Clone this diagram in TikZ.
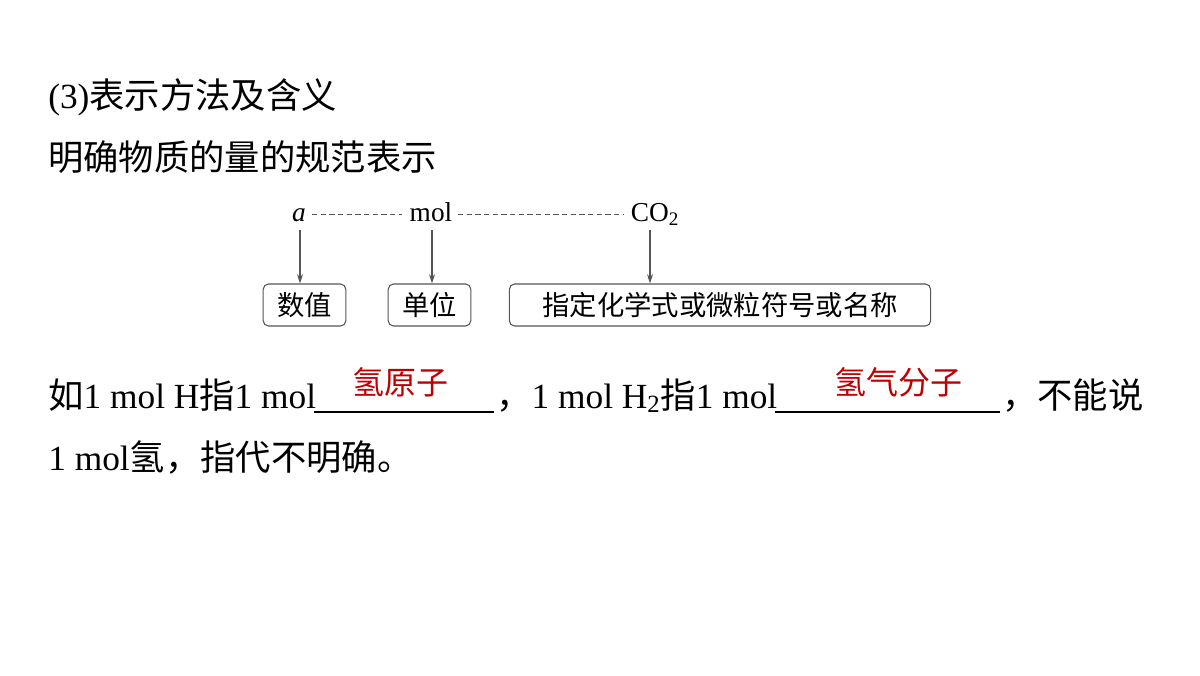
\documentclass[tikz,border=0pt]{standalone}
\usepackage{fontspec}
\setmainfont{Liberation Serif}
\newfontfamily\cjk{Noto Sans CJK SC}
\definecolor{ans}{HTML}{C00000}
\definecolor{ln}{HTML}{555555}
\begin{document}
\begin{tikzpicture}[x=0.75pt,y=-0.75pt,
  txt/.style={inner sep=0pt,anchor=base west,font=\fontsize{26.5}{30}\selectfont},
  dg/.style={inner sep=0pt,font=\fontsize{20.5}{24}\selectfont},
  bx/.style={draw=ln,rounded corners=4pt,line width=0.8pt,inner sep=0pt,minimum height=31.5pt,font=\cjk\fontsize{20.5}{24}\selectfont},
  arr/.style={-{Stealth[length=7pt,width=4.5pt]},draw=ln,line width=0.8pt},
  dsh/.style={draw=ln,line width=0.6pt,dash pattern=on 4pt off 2.5pt},
  ul/.style={draw=black,line width=0.8pt},
  ansf/.style={inner sep=0pt,anchor=base,text=ans,font=\cjk\fontsize{24}{28}\selectfont}]
\usetikzlibrary{arrows.meta}
\useasboundingbox (0,0) rectangle (1200,675);
\node[txt] (t1) at (48,108) {(3)\cjk 表示方法及含义};
\node[txt] (t2) at (48,170) {\cjk 明确物质的量的规范表示};
\node[dg,anchor=base] (a) at (299,221) {\itshape a};
\node[dg,anchor=base] (mol) at (431,221) {mol};
\node[dg,anchor=base] (co) at (655,221) {CO\textsubscript{2}};
\coordinate (d1) at (312,214); \coordinate (d2) at (402,214);
\coordinate (d3) at (458,214); \coordinate (d4) at (624,214);
\draw[dsh] (d1) -- (d2);
\draw[dsh] (d3) -- (d4);
\node[bx,minimum width=62pt] (b1) at (304.5,305) {数值};
\node[bx,minimum width=62pt] (b2) at (429.5,305) {单位};
\node[bx,minimum width=316pt] (b3) at (720,305) {指定化学式或微粒符号或名称};
\draw[arr] (300,230) -- (b1.north -| 300,0);
\draw[arr] (432,230) -- (b2.north -| 432,0);
\draw[arr] (650,230) -- (b3.north -| 650,0);
\node[txt] (l1a) at (48,408) {\cjk 如\rmfamily 1 mol H\cjk 指\rmfamily 1 mol};
\coordinate (u1s) at (314,412); \coordinate (u1e) at (494,412);
\draw[ul] (u1s) -- (u1e);
\node[ansf] (ans1) at (400,394) {氢原子};
\node[txt] (l1b) at (496,408) {\cjk ，\rmfamily 1 mol H\textsubscript{2}\cjk 指\rmfamily 1 mol};
\coordinate (u2s) at (775,412); \coordinate (u2e) at (1000,412);
\draw[ul] (u2s) -- (u2e);
\node[ansf] (ans2) at (898,394) {氢气分子};
\node[txt] (l1c) at (1002,408) {\cjk ，不能说};
\node[txt] (l2) at (48,470) {1 mol\cjk 氢，指代不明确。};
\end{tikzpicture}
\end{document}
